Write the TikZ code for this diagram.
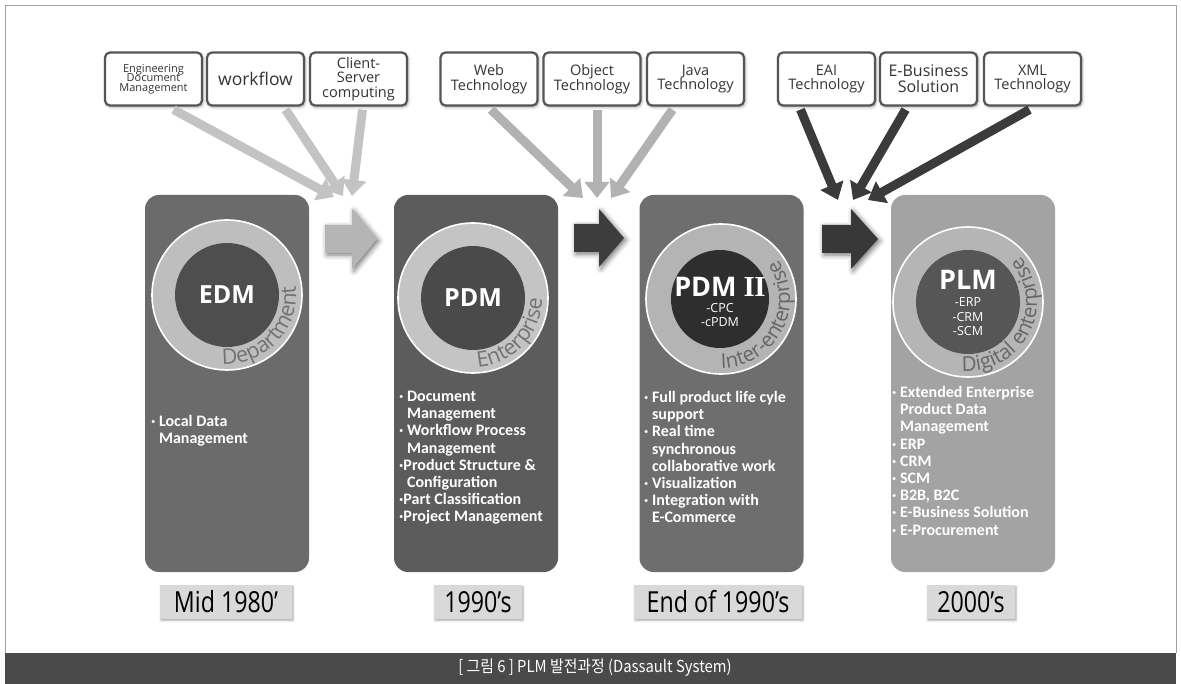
\documentclass[tikz,border=0pt]{standalone}
\usepackage{fontspec}
\setmainfont{Open Sans}
\newfontfamily\bulletfont{Carlito}
\newfontfamily\datefont[FakeStretch=0.8]{Open Sans}
\newfontfamily\capfont[FakeStretch=0.9]{Noto Sans CJK KR}
\newfontfamily\romanfont{Liberation Serif}
\usetikzlibrary{shadows.blur,arrows.meta,decorations.text,calc}
\definecolor{framec}{HTML}{A0A0A0}
\definecolor{capbg}{HTML}{4A4A4A}
\definecolor{boxdraw}{HTML}{555555}
\definecolor{boxtxt}{HTML}{333333}
\definecolor{gA}{HTML}{C3C3C3}
\definecolor{gB}{HTML}{B2B2B2}
\definecolor{gC}{HTML}{3B3B3B}
\definecolor{baA}{HTML}{B5B5B5}
\definecolor{baB}{HTML}{3D3D3D}
\definecolor{baC}{HTML}{383838}
\definecolor{pA}{HTML}{6B6B6B}
\definecolor{pB}{HTML}{5C5C5C}
\definecolor{pC}{HTML}{6E6E6E}
\definecolor{pD}{HTML}{A3A3A3}
\definecolor{rA}{HTML}{BEBEBE}
\definecolor{rB}{HTML}{C4C4C4}
\definecolor{rC}{HTML}{B4B4B4}
\definecolor{rD}{HTML}{B5B5B5}
\definecolor{iA}{HTML}{4E4E4E}
\definecolor{iB}{HTML}{4A4A4A}
\definecolor{iC}{HTML}{2E2E2E}
\definecolor{iD}{HTML}{565656}
\definecolor{ringtxt}{HTML}{727272}
\definecolor{ringtxtB}{HTML}{666666}
\definecolor{datebg}{HTML}{D9D9D9}
\newcommand\bfs{\bulletfont\bfseries\fontsize{16}{17.2}\selectfont}
\newcommand\ind{\phantom{·\ }}
\begin{document}
\begin{tikzpicture}[x=1pt,y=1pt,
  topbox/.style={draw=boxdraw, line width=2.2pt, fill=white, rounded corners=5pt,
     minimum width=97pt, minimum height=53pt, inner sep=1pt, align=center,
     text=boxtxt, font=\fontsize{14.5}{14.5}\selectfont,
     blur shadow={shadow xshift=1pt, shadow yshift=-1.5pt, shadow blur radius=3pt, shadow opacity=40}},
  feed/.style={line width=9pt, -{Triangle[length=16pt,width=24pt]}},
  panel/.style={rounded corners=14pt, minimum width=164pt, minimum height=377pt, inner sep=0pt},
  ring/.style={circle, draw=white, line width=1.6pt, minimum size=150pt, inner sep=0pt},
  core/.style={circle, minimum size=104pt, inner sep=0pt},
  lbl/.style={text=white, font=\bfseries\fontsize{25}{25}\selectfont, inner sep=0pt},
  sub/.style={text=white, font=\fontsize{12.5}{14.5}\selectfont, align=center, inner sep=0pt},
  bul/.style={text=white, font=\bfs, align=left, anchor=north west, inner sep=0pt},
  datebox/.style={fill=datebg, minimum height=34pt, inner sep=0pt,
     font=\datefont\fontsize{29}{29}\selectfont,
     blur shadow={shadow xshift=1pt, shadow yshift=-1.5pt, shadow blur radius=2pt, shadow opacity=35}},
  baglow/.style={blur shadow={shadow xshift=2pt, shadow yshift=-2pt, shadow blur radius=5pt, shadow opacity=55}}
]
\useasboundingbox (0,0) rectangle (1181,-684);
% frame and caption
\draw[framec, line width=0.8pt] (5,-653) -- (5,-5) -- (1176,-5) -- (1176,-653);
\fill[capbg] (5,-653) rectangle (1176,-684);
\node[text=white, font=\capfont\fontsize{16.5}{16.5}\selectfont] (cap) at (595,-668) {[ 그림 6 ] PLM 발전과정 (Dassault System)};

% top boxes
\node[topbox, font=\fontsize{11}{10.5}\selectfont] (tb1) at (153.5,-79) {Engineering\\[-1pt]Document\\[-1pt]Management};
\node[topbox, font=\fontsize{17.5}{17.5}\selectfont] (tb2) at (255.5,-79) {workflow};
\node[topbox, font=\fontsize{14.5}{14.5}\selectfont] (tb3) at (358.5,-79) {Client-\\Server\\computing};
\node[topbox] (tb4) at (489,-79) {Web\\Technology};
\node[topbox] (tb5) at (592,-79) {Object\\Technology};
\node[topbox] (tb6) at (695.5,-79) {Java\\Technology};
\node[topbox] (tb7) at (826.5,-79) {EAI\\Technology};
\node[topbox, font=\fontsize{16}{16}\selectfont] (tb8) at (928.5,-79) {E-Business\\Solution};
\node[topbox] (tb9) at (1032.5,-79) {XML\\Technology};

% arrow targets
\coordinate (e1) at (334,-197);
\coordinate (e2) at (343,-196);
\coordinate (e3) at (352,-196);
\coordinate (e4) at (583,-198);
\coordinate (e5) at (597,-198);
\coordinate (e6) at (611,-198);
\coordinate (e7) at (838,-200);
\coordinate (e8) at (853,-200);
\coordinate (e9) at (868,-200);

\draw[feed, gA] ([xshift=20pt,yshift=-3pt]tb1.south) -- (e1);
\draw[feed, gA] ([xshift=30pt,yshift=-3pt]tb2.south) -- (e2);
\draw[feed, gA] ([xshift=4pt,yshift=-3pt]tb3.south) -- (e3);
\draw[feed, gB] ([xshift=2pt,yshift=-3pt]tb4.south) -- (e4);
\draw[feed, gB] ([xshift=5pt,yshift=-3pt]tb5.south) -- (e5);
\draw[feed, gB] ([xshift=-23pt,yshift=-3pt]tb6.south) -- (e6);
\draw[feed, gC] ([xshift=-26pt,yshift=-3pt]tb7.south) -- (e7);
\draw[feed, gC] ([xshift=-23pt,yshift=-3pt]tb8.south) -- (e8);
\draw[feed, gC] ([xshift=-3pt,yshift=-3pt]tb9.south) -- (e9);

% panels
\node[panel, fill=pA] (p1) at (227,-383.5) {};
\node[panel, fill=pB] (p2) at (476,-383.5) {};
\node[panel, fill=pC] (p3) at (721.5,-383.5) {};
\node[panel, fill=pD] (p4) at (973,-383.5) {};

% block arrows
\coordinate (ba1) at (325,-239);
\coordinate (ba2) at (574,-238);
\coordinate (ba3) at (822,-239);
\fill[baA, baglow] (ba1) ++(0,14) -- ++(27,0) -- ++(0,16) -- ++(25,-30) -- ++(-25,-30) -- ++(0,16) -- ++(-27,0) -- cycle;
\fill[baB, baglow] (ba2) ++(0,14) -- ++(25,0) -- ++(0,15) -- ++(25,-29) -- ++(-25,-29) -- ++(0,15) -- ++(-25,0) -- cycle;
\fill[baC, baglow] (ba3) ++(0,14) -- ++(29,0) -- ++(0,16) -- ++(27,-30) -- ++(-27,-30) -- ++(0,16) -- ++(-29,0) -- cycle;

% rings
\node[ring, fill=rA] (r1) at (227,-295) {};
\node[ring, fill=rB] (r2) at (473,-298) {};
\node[ring, fill=rC] (r3) at (721,-299) {};
\node[ring, fill=rD] (r4) at (968,-302) {};
\node[core, fill=iA] (c1) at (227,-295) {};
\node[core, fill=iB] (c2) at (473,-298) {};
\node[core, fill=iC, minimum size=98pt] (c3) at (720,-299) {};
\node[core, fill=iD] (c4) at (968,-302) {};

% ring texts
\path[decorate, decoration={text along path, text color=ringtxt,
  text={|\fontsize{21.5}{21.5}\selectfont|Department}, text align=left}]
  (r1.center) ++(-94:69) arc[start angle=-94, end angle=80, radius=69];
\path[decorate, decoration={text along path, text color=ringtxt,
  text={|\fontsize{21.5}{21.5}\selectfont|Enterprise}, text align=left}]
  (r2.center) ++(-86:69) arc[start angle=-86, end angle=80, radius=69];
\path[decorate, decoration={text along path, text color=ringtxtB,
  text={|\fontsize{20.5}{20.5}\selectfont|Inter-enterprise}, text align=left}]
  (r3.center) ++(-90:69) arc[start angle=-90, end angle=90, radius=69];
\path[decorate, decoration={text along path, text color=ringtxtB,
  text={|\fontsize{20.5}{20.5}\selectfont|Digital enterprise}, text align=left}]
  (r4.center) ++(-95:69) arc[start angle=-95, end angle=90, radius=69];

% centre labels
\node[lbl] (l1) at (c1) {EDM};
\node[lbl] (l2) at (c2) {PDM};
\node[lbl, font=\bfseries\fontsize{27}{27}\selectfont] (l3) at (720,-287) {PDM {\romanfont\bfseries\fontsize{29}{29}\selectfont I\kern-0.5pt I}};
\node[sub] (s3) at (720,-315) {-CPC\\-cPDM};
\node[lbl, font=\bfseries\fontsize{27}{27}\selectfont] (l4) at (968,-280) {PLM};
\node[sub] (s4) at (968,-317) {-ERP\\-CRM\\-SCM};

% bullet lists
\node[bul] (t1) at (151,-415) {· Local Data\\\ind Management};
\node[bul] (t2) at (399,-391) {· Document\\\ind Management\\· Workflow Process\\\ind Management\\·Product Structure \&\\\ind Configuration\\·Part Classification\\·Project Management};
\node[bul] (t3) at (644,-391) {· Full product life cyle\\\ind support\\· Real time\\\ind synchronous\\\ind collaborative work\\· Visualization\\· Integration with\\\ind E-Commerce};
\node[bul] (t4) at (892,-386) {· Extended Enterprise\\\ind Product Data\\\ind Management\\· ERP\\· CRM\\· SCM\\· B2B, B2C\\· E-Business Solution\\· E-Procurement};

% dates
\node[datebox, minimum width=132pt] (d1) at (226,-602) {Mid 1980’};
\node[datebox, minimum width=88pt] (d2) at (478,-602) {1990’s};
\node[datebox, minimum width=168pt] (d3) at (718,-602) {End of 1990’s};
\node[datebox, minimum width=88pt] (d4) at (971,-602) {2000’s};
\end{tikzpicture}
\end{document}
